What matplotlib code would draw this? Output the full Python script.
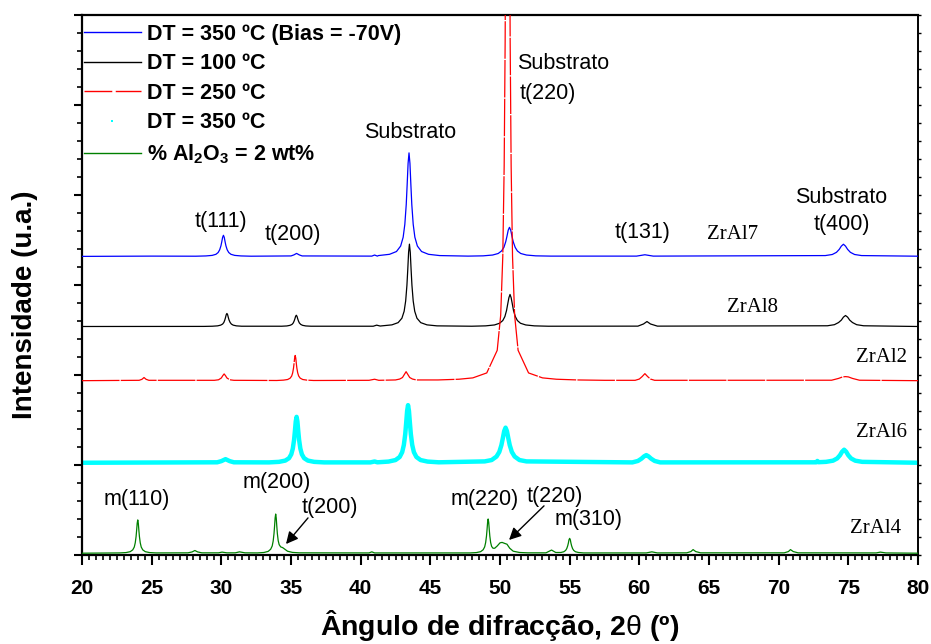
import numpy as np
import matplotlib as mpl
mpl.use("Agg")
import matplotlib.pyplot as plt
from matplotlib.lines import Line2D
from matplotlib.ticker import MultipleLocator

mpl.rcParams['font.family'] = ['Liberation Sans', 'DejaVu Sans']
mpl.rcParams['mathtext.fontset'] = 'custom'
mpl.rcParams['mathtext.rm'] = 'Liberation Sans'
mpl.rcParams['mathtext.bf'] = 'Liberation Sans:bold'
mpl.rcParams['mathtext.it'] = 'Liberation Sans:italic'

# (2theta, intensity above the curve's own baseline)
zral7 = [(20, 0), (25, 3), (28.17, 2), (28.89, 5), (29.34, 11), (29.61, 23), (29.77, 43),
         (29.88, 73), (29.97, 117), (30.03, 161), (30.09, 211), (30.15, 234), (30.21, 211),
         (30.27, 161), (30.33, 117), (30.42, 73), (30.53, 43), (30.69, 23), (30.96, 11),
         (31.41, 5), (32.13, 2),
         (35.0, 5), (35.2, 16), (35.4, 33), (35.6, 16), (35.8, 5),
         (40.8, 3), (41.0, 15), (41.2, 3),
         (41.27, 9), (42.07, 23), (42.57, 54), (42.87, 115), (43.05, 213), (43.17, 357),
         (43.27, 575), (43.336, 794), (43.404, 1035), (43.47, 1150), (43.536, 1035),
         (43.604, 794), (43.67, 575), (43.77, 357), (43.89, 213), (44.07, 115), (44.37, 54),
         (44.87, 23), (45.67, 9),
         (47.71, 3), (48.79, 6), (49.47, 15), (49.87, 32), (50.11, 60), (50.28, 100),
         (50.41, 162), (50.5, 223), (50.59, 291), (50.68, 323), (50.77, 291), (50.86, 223),
         (50.95, 162), (51.09, 100), (51.25, 60), (51.49, 32), (51.9, 15), (52.57, 6),
         (53.65, 3),
         (59.8, 3), (60.4, 18), (61.0, 3),
         (73.35, 9), (73.85, 21), (74.15, 45), (74.35, 78), (74.5, 114), (74.65, 135),
         (74.8, 114), (74.95, 78), (75.15, 45), (75.45, 21), (75.95, 9), (80, 2)]
zral8 = [(20, 0), (28.75, 1), (29.35, 3), (29.73, 7), (29.95, 15), (30.09, 27), (30.18, 45),
         (30.25, 73), (30.3, 100), (30.35, 131), (30.4, 145), (30.45, 131), (30.5, 100),
         (30.55, 73), (30.63, 45), (30.72, 27), (30.85, 15), (31.08, 7), (31.45, 3),
         (34.33, 3), (34.7, 6), (34.93, 13), (35.07, 23), (35.16, 39), (35.23, 63),
         (35.28, 86), (35.33, 113), (35.38, 125), (35.43, 113), (35.48, 86), (35.53, 63),
         (35.6, 39), (35.7, 23), (35.83, 13), (36.06, 6), (36.43, 3),
         (40.9, 3), (41.15, 15), (41.4, 5),
         (41.52, 7), (42.24, 18), (42.69, 43), (42.96, 92), (43.12, 169), (43.23, 284),
         (43.32, 458), (43.38, 631), (43.44, 824), (43.5, 915), (43.56, 824), (43.62, 631),
         (43.68, 458), (43.77, 284), (43.88, 169), (44.04, 92), (44.31, 43), (44.76, 18),
         (45.48, 7),
         (47.97, 3), (48.97, 7), (49.6, 17), (49.97, 36), (50.2, 66), (50.35, 110),
         (50.47, 178), (50.55, 246), (50.64, 320), (50.72, 356), (50.8, 320), (50.89, 246),
         (50.97, 178), (51.1, 110), (51.25, 66), (51.47, 36), (51.85, 17), (52.47, 7),
         (53.47, 3),
         (59.9, 4), (60.3, 28), (60.55, 55), (60.8, 28), (61.3, 4),
         (73.5, 8), (74.0, 20), (74.3, 44), (74.5, 71), (74.65, 104), (74.8, 122),
         (74.95, 104), (75.1, 71), (75.3, 44), (75.6, 20), (76.1, 8), (80, 0)]
zral2 = [(20, 0), (24.1, 4), (24.3, 15), (24.45, 35), (24.6, 15), (24.8, 4),
         (29.5, 4), (29.8, 10), (30.0, 30), (30.1, 55), (30.2, 75), (30.3, 55), (30.4, 30),
         (30.6, 10), (30.9, 4),
         (33.98, 2), (34.46, 6), (34.76, 13), (34.94, 28), (35.05, 52), (35.12, 87),
         (35.18, 140), (35.22, 193), (35.26, 252), (35.3, 280), (35.34, 252), (35.38, 193),
         (35.42, 140), (35.48, 87), (35.55, 52), (35.66, 28), (35.84, 13), (36.14, 6),
         (36.62, 2),
         (40.6, 4), (41.0, 16), (41.3, 4),
         (42.5, 8), (42.8, 18), (43.0, 35), (43.1, 60), (43.26, 100), (43.42, 60), (43.52, 35),
         (43.72, 18), (44.0, 8),
         (45.55, 8), (47.05, 16), (48.05, 31), (49.05, 86), (49.8, 337), (50.05, 727),
         (50.2, 1379), (50.3, 2387), (50.37, 3770), (50.45, 6622), (50.55, 10000),
         (50.65, 6622), (50.73, 3770), (50.8, 2387), (50.9, 1379), (51.05, 727), (51.3, 337),
         (52.05, 86), (53.05, 31), (54.05, 16), (55.55, 8), (57.5, 4),
         (59.7, 4), (60.0, 18), (60.2, 45), (60.4, 78), (60.6, 45), (60.8, 18), (61.1, 4),
         (73.8, 5), (74.3, 25), (74.6, 42), (74.8, 45), (75.0, 42), (75.3, 25), (75.8, 5),
         (80, 0)]
zral6 = [(20, 0), (29.7, 5), (30.0, 18), (30.3, 40), (30.6, 18), (30.9, 5),
         (33.42, 4), (34.14, 10), (34.59, 24), (34.86, 51), (35.02, 94), (35.13, 158),
         (35.22, 255), (35.28, 352), (35.34, 459), (35.4, 510), (35.46, 459), (35.52, 352),
         (35.58, 255), (35.67, 158), (35.78, 94), (35.94, 51), (36.21, 24), (36.66, 10),
         (37.38, 4),
         (40.7, 4), (41.0, 14), (41.2, 5),
         (41.2, 5), (42.0, 13), (42.5, 30), (42.8, 64), (42.98, 118), (43.1, 198), (43.2, 320),
         (43.266, 442), (43.334, 576), (43.4, 640), (43.466, 576), (43.534, 442), (43.6, 320),
         (43.7, 198), (43.82, 118), (44.0, 64), (44.3, 30), (44.8, 13), (45.6, 5),
         (48.9, 15), (49.4, 30), (49.75, 69), (49.95, 120), (50.1, 195), (50.2, 270),
         (50.3, 351), (50.4, 390), (50.5, 351), (50.6, 270), (50.7, 195), (50.85, 120),
         (51.05, 69), (51.4, 30), (51.9, 15),
         (59.5, 4), (59.9, 20), (60.15, 45), (60.35, 72), (60.5, 85), (60.65, 72),
         (60.85, 45), (61.1, 20), (61.5, 4),
         (72.7, 5), (72.78, 20), (72.86, 6),
         (73.4, 10), (73.9, 23), (74.2, 48), (74.4, 83), (74.55, 122), (74.7, 145),
         (74.85, 122), (75.0, 83), (75.2, 48), (75.5, 23), (76.0, 10), (80, 0)]
zral4 = [(20, 0), (22.68, 3), (23.16, 7), (23.46, 17), (23.64, 37), (23.75, 68), (23.82, 115),
         (23.88, 185), (23.92, 255), (23.96, 333), (24.0, 370), (24.04, 333), (24.08, 255),
         (24.12, 185), (24.18, 115), (24.25, 68), (24.36, 37), (24.54, 17), (24.84, 7),
         (25.32, 3),
         (27.6, 4), (27.9, 14), (28.1, 30), (28.3, 14), (28.6, 4), (29.8, 4), (30.05, 12),
         (30.4, 4), (31.0, 4), (31.3, 15), (31.7, 4),
         (32.58, 3), (33.06, 8), (33.36, 20), (33.54, 44), (33.65, 80), (33.72, 135),
         (33.78, 218), (33.82, 300), (33.86, 391), (33.9, 435), (33.94, 391), (33.98, 300),
         (34.02, 218), (34.08, 140), (34.15, 95), (34.26, 70), (34.4, 62), (34.55, 45),
         (34.75, 22), (35.1, 9), (35.6, 4),
         (40.6, 3), (40.8, 15), (41.0, 3),
         (47.83, 3), (48.31, 7), (48.61, 17), (48.79, 38), (48.9, 70), (48.97, 118),
         (49.03, 190), (49.07, 262), (49.11, 342), (49.15, 380), (49.19, 342), (49.23, 262),
         (49.27, 190), (49.33, 118), (49.4, 75), (49.5, 55), (49.62, 55), (49.8, 80),
         (50.0, 115), (50.15, 120), (50.35, 108), (50.5, 100), (50.7, 55), (50.95, 22),
         (51.4, 8), (52.0, 4),
         (53.3, 4), (53.7, 35), (54.0, 8), (54.37, 8), (54.58, 16), (54.71, 31), (54.79, 51),
         (54.86, 82), (54.91, 114), (54.95, 148), (55.0, 165), (55.05, 148), (55.09, 114),
         (55.14, 82), (55.21, 51), (55.29, 31), (55.42, 16), (55.63, 8), (56.0, 3),
         (60.5, 3), (60.9, 15), (61.3, 3),
         (63.4, 4), (63.7, 18), (63.86, 40), (64.05, 18), (64.4, 4),
         (70.4, 4), (70.7, 18), (70.85, 40), (71.05, 18), (71.4, 4),
         (77.0, 3), (77.3, 12), (77.7, 3), (80, 0)]

samples = ['ZrAl7', 'ZrAl8', 'ZrAl2', 'ZrAl6', 'ZrAl4']
offsets = [3318, 2539, 1937, 1025, 20]
labels = ['DT = 350 ºC (Bias = -70V)', 'DT = 100 ºC', 'DT = 250 ºC', 'DT = 350 ºC',
          r'% Al$_\mathbf{2}$O$_\mathbf{3}$ = 2 wt%']
curves = [zral7, zral8, zral2, zral6, zral4]

colors = ['#0000ff', '#000000', '#ff0000', '#00ffff', '#008000']
widths = [0.9, 0.9, 0.9, 3.2, 0.9]
styles = ['-', '-', (0, (30, 1.0)), '-', '-']
zorders = [3, 3, 5, 2, 3]

fig = plt.figure(figsize=(9.31, 6.44), dpi=100)
ax = fig.add_axes([0.0881, 0.1382, 0.8979, 0.8385])

for pts, off, c, lw, ls, z in zip(curves, offsets, colors, widths, styles, zorders):
    xy = np.array(pts, dtype=float)
    ax.plot(xy[:, 0], xy[:, 1] + off, color=c, lw=lw, ls=ls, zorder=z)

handles = [Line2D([], [], color=colors[0], lw=1),
           Line2D([], [], color=colors[1], lw=1),
           Line2D([], [], color=colors[2], lw=1, ls=(0, (20, 2.5))),
           Line2D([], [], color=colors[3], ls='none', marker='s', ms=2, mew=0),
           Line2D([], [], color=colors[4], lw=1)]
ax.legend(handles, labels, loc='upper left', bbox_to_anchor=(0.002, 0.984), frameon=False,
          prop=dict(weight='bold', size=15.5), handlelength=2.65, handletextpad=0.3,
          labelspacing=0.4, borderaxespad=0, borderpad=0, numpoints=1)

# peak annotations
sans = dict(fontsize=15.5, ha='center', va='center')
ax.text(29.98, 3708, 't(111)', **sans)
ax.text(35.14, 3564, 't(200)', **sans)
ax.text(43.54, 4699, 'Substrato', **sans)
ax.text(51.22, 5457, 'Substrato', fontsize=15.5, ha='left', va='center')
ax.text(51.44, 5123, 't(220)', fontsize=15.5, ha='left', va='center')
ax.text(60.26, 3586, 't(131)', **sans)
ax.text(74.48, 3976, 'Substrato', **sans)
ax.text(74.55, 3675, 't(400)', **sans)
ax.text(23.95, 612, 'm(110)', **sans)
ax.text(34.0, 802, 'm(200)', **sans)
ax.text(37.8, 523, 't(200)', **sans)
ax.text(48.92, 612, 'm(220)', **sans)
ax.text(53.95, 646, 't(220)', **sans)
ax.text(56.39, 390, 'm(310)', **sans)
arrow = dict(arrowstyle='-|>', color='k', lw=1, mutation_scale=18, shrinkA=0, shrinkB=0)
ax.annotate('', xy=(34.64, 122), xytext=(36.22, 412), arrowprops=arrow)
ax.annotate('', xy=(50.65, 167), xytext=(53.16, 546), arrowprops=arrow)

serif = dict(fontsize=15, family='Liberation Serif', ha='center', va='center')
name_pos = [(66.72, 3564), (68.09, 2751), (77.35, 2194), (77.35, 1359), (76.99, 290)]
for name, (tx, ty) in zip(samples, name_pos):
    ax.text(tx, ty, name, **serif)

ax.set_xlim(20, 80)
ax.set_ylim(0, 6000)
ax.xaxis.set_major_locator(MultipleLocator(5))
ax.xaxis.set_minor_locator(MultipleLocator(0.5))
ax.yaxis.set_major_locator(MultipleLocator(1000))
ax.yaxis.set_minor_locator(MultipleLocator(200))
ax.tick_params(axis='x', which='major', direction='out', length=7, width=1.5, labelsize=15, pad=10)
ax.tick_params(axis='x', which='minor', direction='out', length=3.5, width=1.2)
ax.tick_params(axis='y', which='major', direction='out', length=6, width=1.5, labelleft=False)
ax.tick_params(axis='y', which='minor', direction='out', length=3.5, width=1.2)
plt.setp(ax.get_xticklabels(), fontweight='bold')

sec = ax.secondary_yaxis('right')
sec.yaxis.set_major_locator(MultipleLocator(200))
sec.tick_params(direction='out', length=2.5, width=1, labelright=False)
sec.spines['right'].set_linewidth(1.2)

for side in ['left', 'bottom', 'top']:
    ax.spines[side].set_linewidth(1.6)
ax.spines['right'].set_linewidth(1.2)

ax.set_xlabel(r'Ângulo de difracção, 2$\mathrm{\theta}$ (º)', fontsize=20.5, fontweight='bold')
ax.set_ylabel('Intensidade (u.a.)', fontsize=20, fontweight='bold')
ax.xaxis.set_label_coords(0.5, -0.098)
ax.yaxis.set_label_coords(-0.053, 0.463)

fig.savefig('out.png', dpi=100)
